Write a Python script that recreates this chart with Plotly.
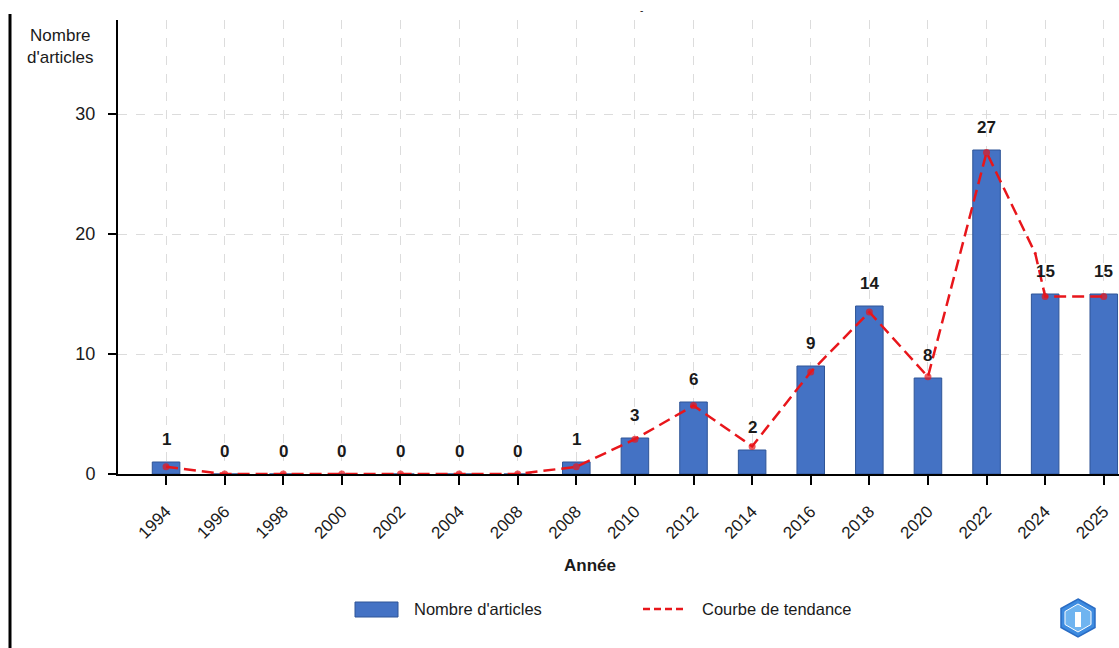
import plotly.graph_objects as go

# Article counts per period
years = ["1994", "1996", "1998", "2000", "2002", "2004", "2008", "2008",
         "2010", "2012", "2014", "2016", "2018", "2020", "2022", "2024", "2025"]
articles = [1, 0, 0, 0, 0, 0, 0, 1, 3, 6, 2, 9, 14, 8, 27, 15, 15]

# Trend curve (positions on the category index scale)
trend_pos = [0, 1, 2, 3, 4, 5, 6, 7, 8, 9, 10, 11, 12, 13, 14, 14.83, 15, 16]
trend_val = [0.6, 0, 0, 0, 0, 0, 0, 0.6, 2.9, 5.7, 2.3, 8.5, 13.5, 8.1, 26.8, 18.4, 14.8, 14.8]
trend_size = [7] * 15 + [3, 7, 7]

FONT = "Liberation Sans, Arial, sans-serif"
TXT = "#1a1a1a"
BAR_FILL = "#4472C4"
BAR_EDGE = "#2F5597"
RED = "#E8161B"

# pixel geometry of the plotting area
W, H = 1119, 648
L, R, T, B = 118, 1119, 20, 474


def px_x(px):
    return (px - L) / (R - L)


def px_y(py):
    return (B - py) / (B - T)


idx = list(range(len(years)))

fig = go.Figure()
fig.add_trace(go.Bar(
    x=idx, y=articles, width=0.47,
    marker=dict(color=BAR_FILL, line=dict(color=BAR_EDGE, width=1)),
    showlegend=False, hoverinfo="skip",
))
fig.add_trace(go.Scatter(
    x=trend_pos, y=trend_val, mode="lines+markers",
    line=dict(color=RED, width=2.5, dash="12px,6px"),
    marker=dict(color=RED, size=trend_size, line=dict(width=0)),
    showlegend=False, hoverinfo="skip",
))

annotations = []
# value labels above the bars
for i, v in zip(idx, articles):
    annotations.append(dict(
        x=i, y=v, xref="x", yref="y", text=f"<b>{v}</b>", showarrow=False,
        yshift=23, font=dict(family=FONT, size=17, color=TXT),
    ))


def paper_text(px, py, text, size, xanchor="center"):
    return dict(x=px_x(px), y=px_y(py), xref="paper", yref="paper",
                xanchor=xanchor, yanchor="middle", text=text, showarrow=False,
                align="center", font=dict(family=FONT, size=size, color=TXT))


annotations += [
    paper_text(60, 46, "Nombre<br>d'articles", 17),      # y-axis title
    paper_text(590, 565, "<b>Année</b>", 17),            # x-axis title
    paper_text(412, 609, "Nombre d'articles", 16.5, "left"),
    paper_text(700, 609, "Courbe de tendance", 16.5, "left"),
    paper_text(641, 11, "-", 10),
]

shapes = [
    # left page border
    dict(type="line", xref="paper", yref="paper",
         x0=px_x(10), x1=px_x(10), y0=px_y(14), y1=px_y(648),
         line=dict(color="black", width=3)),
    # legend: bar swatch
    dict(type="rect", xref="paper", yref="paper",
         x0=px_x(355), x1=px_x(398), y0=px_y(617), y1=px_y(602),
         fillcolor=BAR_FILL, line=dict(color=BAR_EDGE, width=1)),
    # legend: dashed line swatch
    dict(type="line", xref="paper", yref="paper",
         x0=px_x(643), x1=px_x(684), y0=px_y(609), y1=px_y(609),
         line=dict(color=RED, width=2.5, dash="7px,4px")),
]

# small hexagonal badge in the bottom-right corner
cx, cy, rx, ry = 1078, 618, 17, 19
hexpts = [(cx, cy - ry), (cx + rx, cy - ry / 2), (cx + rx, cy + ry / 2),
          (cx, cy + ry), (cx - rx, cy + ry / 2), (cx - rx, cy - ry / 2)]
path = "M " + " L ".join(f"{px_x(a):.5f},{px_y(b):.5f}" for a, b in hexpts) + " Z"
shapes.append(dict(type="path", xref="paper", yref="paper", path=path,
                   fillcolor="#3D8BE0", line=dict(color="#2A6CC4", width=1.5)))
inner = [(cx, cy - ry + 5), (cx + rx - 4, cy - ry / 2 + 3), (cx + rx - 4, cy + ry / 2 - 3),
         (cx, cy + ry - 5), (cx - rx + 4, cy + ry / 2 - 3), (cx - rx + 4, cy - ry / 2 + 3)]
path2 = "M " + " L ".join(f"{px_x(a):.5f},{px_y(b):.5f}" for a, b in inner) + " Z"
shapes.append(dict(type="path", xref="paper", yref="paper", path=path2,
                   fillcolor="#6FB4F0", line=dict(color="white", width=1)))
shapes.append(dict(type="rect", xref="paper", yref="paper",
                   x0=px_x(cx - 3), x1=px_x(cx + 3), y0=px_y(cy + 9), y1=px_y(cy - 6),
                   fillcolor="white", line=dict(width=0)))

fig.update_layout(
    width=W, height=H,
    margin=dict(l=L, r=W - R, t=T, b=H - B),
    paper_bgcolor="white", plot_bgcolor="white",
    font=dict(family=FONT, size=16, color=TXT),
    annotations=annotations,
    shapes=shapes,
    xaxis=dict(
        range=[-0.82, 16.26], tickmode="array", tickvals=idx, ticktext=years,
        tickangle=-45, tickfont=dict(family=FONT, size=17, color=TXT),
        ticklabelstandoff=10,
        showline=True, linecolor="black", linewidth=2,
        ticks="outside", ticklen=9, tickwidth=2, tickcolor="black",
        showgrid=True, gridcolor="#dcdcdc", griddash="dash", gridwidth=1,
        zeroline=False, fixedrange=True,
    ),
    yaxis=dict(
        range=[0, (B - T) / 12], tickmode="array", tickvals=[0, 10, 20, 30],
        tickfont=dict(family=FONT, size=18, color=TXT),
        ticklabelstandoff=9,
        showline=True, linecolor="black", linewidth=2,
        ticks="outside", ticklen=8, tickwidth=2, tickcolor="black",
        showgrid=True, gridcolor="#dcdcdc", griddash="dash", gridwidth=1,
        zeroline=False, fixedrange=True,
    ),
)

fig.write_html("out.html")
